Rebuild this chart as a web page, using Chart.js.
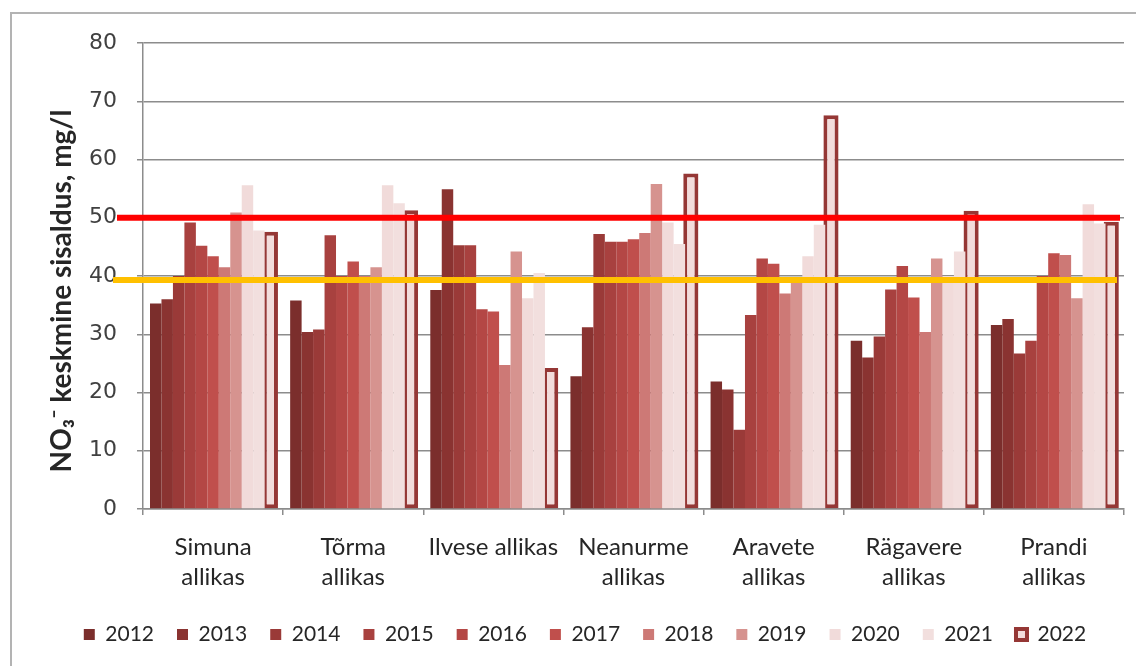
<!DOCTYPE html>
<html>
<head>
<meta charset="utf-8">
<script src="https://cdn.jsdelivr.net/npm/chart.js@4/dist/chart.umd.min.js"></script>
<style>
  html, body { margin: 0; padding: 0; background: #ffffff; }
  #wrap { position: relative; width: 1136px; height: 666px; }
</style>
</head>
<body>
<div id="wrap"><canvas id="nitraat"></canvas></div>
<script>
// ---------------- DATA ----------------
const stations = [
    ['Simuna', 'allikas'],
    ['Tõrma', 'allikas'],
    'Ilvese allikas',
    ['Neanurme', 'allikas'],
    ['Aravete', 'allikas'],
    ['Rägavere', 'allikas'],
    ['Prandi', 'allikas']
];
const years = ['2012', '2013', '2014', '2015', '2016', '2017', '2018', '2019', '2020', '2021', '2022'];

const v2012 = [35.3, 35.8, 37.6, 22.8, 21.9, 28.9, 31.6];
const v2013 = [36.0, 30.4, 54.9, 31.2, 20.5, 26.0, 32.6];
const v2014 = [40.0, 30.8, 45.3, 47.2, 13.6, 29.6, 26.7];
const v2015 = [49.2, 47.0, 45.3, 45.9, 33.3, 37.7, 28.9];
const v2016 = [45.2, 40.0, 34.3, 45.9, 43.0, 41.7, 40.0];
const v2017 = [43.4, 42.5, 33.9, 46.3, 42.1, 36.3, 43.9];
const v2018 = [41.5, 40.0, 24.7, 47.4, 37.0, 30.4, 43.6];
const v2019 = [50.9, 41.5, 44.2, 55.8, 38.8, 43.0, 36.2];
const v2020 = [55.6, 55.6, 36.2, 49.2, 43.4, 40.0, 52.3];
const v2021 = [47.8, 52.5, 40.5, 45.5, 48.8, 44.2, 49.0];
const v2022 = [47.6, 51.3, 24.2, 57.6, 67.6, 51.2, 49.3];

const yTicks = [0, 10, 20, 30, 40, 50, 60, 70, 80];

// limit value and its reference level
const limitValue = 50;
const refLevel = 39.3;

const yTitle = 'NO₃⁻ keskmine sisaldus, mg/l';

// ---------------- STYLES ----------------
const series = [v2012, v2013, v2014, v2015, v2016, v2017, v2018, v2019, v2020, v2021, v2022];
const barColors = ['#7b2e2c', '#8a3331', '#9a3a38', '#a8413f', '#b44745', '#c04f4c',
                   '#cd7976', '#d6938f', '#f1dbda', '#f2dfde', '#f2dcdb'];
const dark2022 = '#953735';
const gridGray = '#8c8c8c';
const textColor = '#262626';

const datasets = series.map((vals, i) => {
    const last = i === series.length - 1;
    return {
        label: years[i],
        data: vals,
        backgroundColor: barColors[i],
        borderColor: last ? dark2022 : barColors[i],
        borderWidth: last ? 4 : 0,
        borderSkipped: false,
        // the 2022 bar is a bit wider than its slot
        barPercentage: last ? 1.32 : 1.0,
        categoryPercentage: 0.9
    };
});

// ------------ FRAME, LIMIT LINES, AXIS TITLE ------------
const extras = {
    id: 'extras',
    beforeDraw(chart) {
        const ctx = chart.ctx;
        ctx.save();
        ctx.fillStyle = '#ffffff';
        ctx.fillRect(0, 0, chart.width, chart.height);
        ctx.strokeStyle = '#b3b3b3';
        ctx.lineWidth = 2;
        ctx.beginPath();
        ctx.moveTo(11, chart.height);
        ctx.lineTo(11, 13);
        ctx.lineTo(chart.width, 13);
        ctx.stroke();
        ctx.restore();
    },
    afterDatasetsDraw(chart) {
        const ctx = chart.ctx;
        const y = chart.scales.y;
        const area = chart.chartArea;
        ctx.save();
        ctx.lineWidth = 6;
        ctx.strokeStyle = '#ffc000';
        ctx.beginPath();
        ctx.moveTo(area.left - 30, y.getPixelForValue(refLevel));
        ctx.lineTo(area.right - 7, y.getPixelForValue(refLevel));
        ctx.stroke();
        ctx.strokeStyle = '#ff0000';
        ctx.beginPath();
        ctx.moveTo(area.left - 26, y.getPixelForValue(limitValue));
        ctx.lineTo(area.right - 4, y.getPixelForValue(limitValue));
        ctx.stroke();
        ctx.restore();
    },
    afterDraw(chart) {
        const ctx = chart.ctx;
        const area = chart.chartArea;
        ctx.save();
        ctx.translate(area.left - 81, (area.top + area.bottom) / 2 + 15);
        ctx.rotate(-Math.PI / 2);
        ctx.fillStyle = textColor;
        ctx.font = 'bold 28px Lato';
        ctx.textAlign = 'center';
        ctx.textBaseline = 'middle';
        ctx.fillText(yTitle, 0, 0);
        ctx.restore();
    }
};

new Chart(document.getElementById('nitraat'), {
    type: 'bar',
    data: { labels: stations, datasets: datasets },
    plugins: [extras],
    options: {
        responsive: true,
        maintainAspectRatio: false,
        animation: false,
        layout: { padding: { left: 46, top: 43, right: 12, bottom: 11 } },
        plugins: {
            tooltip: { enabled: false },
            legend: {
                position: 'bottom',
                labels: {
                    boxWidth: 11,
                    boxHeight: 11,
                    padding: 23,
                    color: textColor,
                    font: { family: 'Lato', size: 21 }
                }
            }
        },
        scales: {
            x: {
                afterFit: (scale) => { scale.height = 92; },
                grid: { display: true, drawOnChartArea: false, drawTicks: true, tickLength: 6, offset: true, color: gridGray, lineWidth: 1.5 },
                border: { color: gridGray, width: 1.5 },
                ticks: {
                    color: textColor,
                    padding: 17,
                    maxRotation: 0,
                    autoSkip: false,
                    font: { family: 'Lato', size: 24, lineHeight: 1.25 }
                }
            },
            y: {
                min: 0,
                max: 80,
                afterFit: (scale) => { scale.width = 97; },
                afterBuildTicks: (scale) => { scale.ticks = yTicks.map(v => ({ value: v })); },
                grid: { color: gridGray, lineWidth: 1.5, tickLength: 6 },
                border: { color: gridGray, width: 1.5 },
                ticks: {
                    color: '#404040',
                    padding: 20,
                    font: { family: 'DejaVu Sans', size: 22 }
                }
            }
        }
    }
});
</script>
</body>
</html>
